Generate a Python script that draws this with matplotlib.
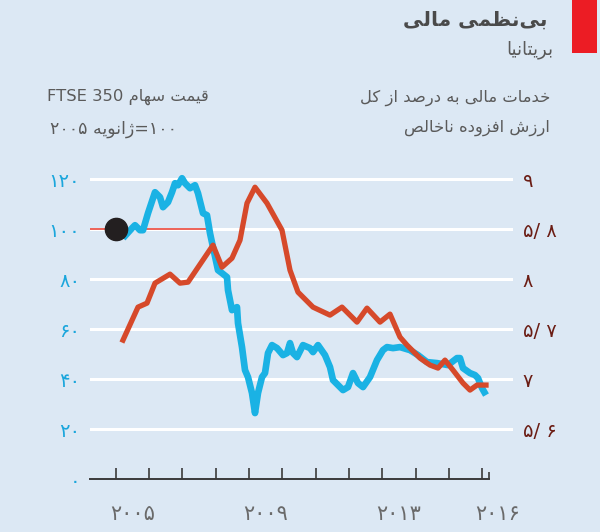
import matplotlib
matplotlib.use('Agg')
import matplotlib.pyplot as plt
from matplotlib.patches import Rectangle

# FTSE 350 share price, Jan 2005 = 100 (left axis)
ftse_years = [2005.22, 2005.49, 2005.58, 2005.73, 2005.82, 2005.97, 2006.18, 2006.33, 2006.42,
              2006.57, 2006.69, 2006.78, 2006.87, 2006.99, 2007.08, 2007.23, 2007.38, 2007.47,
              2007.62, 2007.74, 2007.83, 2007.92, 2008.07, 2008.19, 2008.34, 2008.37, 2008.49,
              2008.64, 2008.67, 2008.79, 2008.88, 2008.97, 2009.09, 2009.18, 2009.27, 2009.39,
              2009.48, 2009.57, 2009.69, 2009.84, 2010.02, 2010.14, 2010.23, 2010.32, 2010.44,
              2010.62, 2010.83, 2010.92, 2011.07, 2011.28, 2011.43, 2011.52, 2011.67, 2011.82,
              2011.97, 2012.12, 2012.27, 2012.42, 2012.63, 2012.84, 2013.02, 2013.14, 2013.32,
              2013.53, 2013.83, 2014.07, 2014.34, 2014.64, 2014.97, 2015.24, 2015.33, 2015.42,
              2015.63, 2015.78, 2015.87, 2015.99, 2016.11]
ftse_index = [96.4, 100.4, 101.6, 99.6, 99.6, 106.4, 114.8, 112.8, 108.8,
              110.8, 114.8, 118.4, 117.6, 120.4, 118.4, 116.4, 117.6, 114.4,
              106.4, 105.6, 98.4, 92.8, 83.6, 82.4, 80.8, 75.6, 67.6,
              68.8, 62.4, 52.8, 43.6, 40.8, 34.4, 26.4, 34.4, 40.8,
              42.4, 50.4, 53.6, 52.4, 49.6, 50.4, 54.4, 50.4, 48.8,
              53.6, 52.4, 50.8, 53.6, 49.6, 44.8, 39.6, 37.6, 35.6,
              36.8, 42.4, 38.4, 36.8, 40.8, 47.6, 51.6, 52.8, 52.4,
              52.8, 51.6, 49.6, 46.8, 46.4, 45.6, 48.4, 48.4, 44.4,
              42.4, 41.6, 40.4, 36.4, 33.6]

# financial services as % of gross value added (right axis)
gva_years = [2005.22, 2005.67, 2005.94, 2006.18, 2006.63, 2006.93, 2007.17, 2007.92, 2008.19,
             2008.49, 2008.73, 2008.94, 2009.18, 2009.54, 2009.99, 2010.23, 2010.47, 2010.92,
             2011.43, 2011.79, 2012.24, 2012.54, 2012.93, 2013.23, 2013.53, 2013.74, 2014.13,
             2014.43, 2014.67, 2014.88, 2015.12, 2015.42, 2015.63, 2015.84, 2016.11]
gva_share = [7.39, 7.72, 7.76, 7.96, 8.05, 7.96, 7.97, 8.34, 8.12,
             8.21, 8.39, 8.76, 8.92, 8.76, 8.49, 8.09, 7.87, 7.72,
             7.64, 7.72, 7.57, 7.71, 7.57, 7.65, 7.42, 7.34, 7.21,
             7.14, 7.11, 7.19, 7.09, 6.96, 6.89, 6.94, 6.94]

left_ticks = [0, 20, 40, 60, 80, 100, 120]
left_labels = ['۰', '۲۰', '۴۰', '۶۰', '۸۰', '۱۰۰', '۱۲۰']
right_ticks = [6.5, 7, 7.5, 8, 8.5, 9]
right_labels = ['۵/ ۶', '۷', '۵/ ۷', '۸', '۵/ ۸', '۹']
year_ticks = list(range(2005, 2017))
year_labels = {2005.5: '۲۰۰۵', 2009.5: '۲۰۰۹', 2013.5: '۲۰۱۳', 2016.47: '۲۰۱۶'}

title = 'بی‌نظمی مالی'
subtitle = 'بریتانیا'
left_head = ['قیمت سهام FTSE 350', '۱۰۰=ژانویه ۲۰۰۵']
right_head = ['خدمات مالی به درصد از کل', 'ارزش افزوده ناخالص']

# matplotlib has no Arabic shaping / bidi, so pick the joined glyph forms by hand
# (isolated, final, initial, medial); None = letter does not join to the next one
FORMS = {
    'ا': ('\uFE8D', '\uFE8E', None, None),
    'ب': ('\uFE8F', '\uFE90', '\uFE91', '\uFE92'),
    'ت': ('\uFE95', '\uFE96', '\uFE97', '\uFE98'),
    'خ': ('\uFEA5', '\uFEA6', '\uFEA7', '\uFEA8'),
    'د': ('\uFEA9', '\uFEAA', None, None),
    'ر': ('\uFEAD', '\uFEAE', None, None),
    'ز': ('\uFEAF', '\uFEB0', None, None),
    'ژ': ('\uFB8A', '\uFB8B', None, None),
    'س': ('\uFEB1', '\uFEB2', '\uFEB3', '\uFEB4'),
    'ش': ('\uFEB5', '\uFEB6', '\uFEB7', '\uFEB8'),
    'ص': ('\uFEB9', '\uFEBA', '\uFEBB', '\uFEBC'),
    'ظ': ('\uFEC5', '\uFEC6', '\uFEC7', '\uFEC8'),
    'ف': ('\uFED1', '\uFED2', '\uFED3', '\uFED4'),
    'ق': ('\uFED5', '\uFED6', '\uFED7', '\uFED8'),
    'ک': ('\uFB8E', '\uFB8F', '\uFB90', '\uFB91'),
    'ل': ('\uFEDD', '\uFEDE', '\uFEDF', '\uFEE0'),
    'م': ('\uFEE1', '\uFEE2', '\uFEE3', '\uFEE4'),
    'ن': ('\uFEE5', '\uFEE6', '\uFEE7', '\uFEE8'),
    'ه': ('\uFEE9', '\uFEEA', '\uFEEB', '\uFEEC'),
    'و': ('\uFEED', '\uFEEE', None, None),
    'ی': ('\uFBFC', '\uFBFD', '\uFBFE', '\uFBFF'),
}


def shape(s):
    out = []
    for i, c in enumerate(s):
        if c not in FORMS:
            out.append(c)
            continue
        prev = s[i - 1] if i > 0 else None
        nxt = s[i + 1] if i + 1 < len(s) else None
        iso, fin, ini, med = FORMS[c]
        jp = prev in FORMS and FORMS[prev][2] is not None
        jn = ini is not None and nxt in FORMS
        out.append(med if jp and jn else fin if jp else ini if jn else iso)
    return ''.join(out).replace('\u200c', '')


def fa(s):
    s = shape(s)

    def kind(c):
        if c.isascii() and c.isalnum() or '\u06f0' <= c <= '\u06f9':
            return 'L'
        if '\ufb50' <= c <= '\ufeff' or '\u0600' <= c <= '\u06ff':
            return 'R'
        return 'N'
    k = [kind(c) for c in s]
    for i, v in enumerate(k):
        if v == 'N':
            p = next((x for x in reversed(k[:i]) if x != 'N'), 'R')
            n = next((x for x in k[i + 1:] if x != 'N'), 'R')
            k[i] = 'L' if p == n == 'L' else 'R'
    runs = []
    for c, v in zip(s, k):
        if runs and runs[-1][0] == v:
            runs[-1][1].append(c)
        else:
            runs.append((v, [c]))
    return ''.join(''.join(r if v == 'L' else r[::-1]) for v, r in reversed(runs))


plt.rcParams['font.family'] = ['DejaVu Sans', 'Noto Sans']

bg = '#dce8f4'
blue = '#1ab2e4'
red = '#d6492a'
grey = '#5a5a5a'

fig = plt.figure(figsize=(6, 5.32), dpi=100, facecolor=bg)
ax = fig.add_axes([0.15, 0.0996, 0.705, 0.587])
ax.set_facecolor(bg)
ax.set_xlim(2004.23, 2016.92)
ax.set_ylim(0, 125)

for v in left_ticks[1:]:
    ax.axhline(v, color='white', lw=2.2, zorder=0.5)

# reference line at 100 and the starting dot
ax.hlines(100, 2004.23, 2007.7, color='#e8382a', lw=1.1, zorder=1)
ax.plot(ftse_years, ftse_index, color=blue, lw=4.8, solid_joinstyle='round',
        solid_capstyle='butt', zorder=2, clip_on=False)
ax.plot([2005.0], [100], 'o', color='#231f20', ms=16, zorder=4, clip_on=False)

for s in ['top', 'right', 'left']:
    ax.spines[s].set_visible(False)
ax.spines['bottom'].set_bounds(2004.23, 2016.2)
ax.spines['bottom'].set_color('#3a3a3a')
ax.spines['bottom'].set_linewidth(1.4)
ax.set_xticks(year_ticks)
ax.set_xticklabels([])
ax.set_xticks([2016.2], minor=True)
ax.tick_params(axis='x', which='major', direction='in', length=8, width=1.2, color='#3a3a3a')
ax.tick_params(axis='x', which='minor', direction='in', length=5, width=1.2, color='#3a3a3a')
for x, lab in year_labels.items():
    ax.annotate(lab, xy=(x, 0), xycoords=ax.get_xaxis_transform(), xytext=(0, -25),
                textcoords='offset points', ha='center', va='center', fontsize=15, color='#6a6a6a')

ax.set_yticks(left_ticks)
ax.set_yticklabels(left_labels)
ax.tick_params(axis='y', length=0, pad=7, labelsize=14, labelcolor='#1ba6dc')

ax2 = ax.twinx()
ax2.set_ylim(6, 6 + 125 / 40)
ax2.plot(gva_years, gva_share, color=red, lw=3.8, solid_joinstyle='round', zorder=3)
for s in ['top', 'right', 'left', 'bottom']:
    ax2.spines[s].set_visible(False)
ax2.set_yticks(right_ticks)
ax2.set_yticklabels(right_labels)
ax2.tick_params(axis='y', length=0, pad=7, labelsize=14, labelcolor='#6b1d14')

# headers
fig.add_artist(Rectangle((572 / 600, 1 - 53 / 532), 25 / 600, 53 / 532,
                         transform=fig.transFigure, color='#ec1c24', lw=0))
fig.text(0.913, 0.962, fa(title), ha='right', va='center', fontsize=14.5,
         fontweight='bold', color='#4a4a4a')
fig.text(0.922, 0.906, fa(subtitle), ha='right', va='center', fontsize=13, color=grey)
fig.text(0.917, 0.816, fa(right_head[0]), ha='right', va='center', fontsize=11.8, color=grey)
fig.text(0.917, 0.759, fa(right_head[1]), ha='right', va='center', fontsize=11.8, color=grey)
fig.text(0.078, 0.818, fa(left_head[0]), ha='left', va='center', fontsize=11.8, color=grey)
fig.text(0.083, 0.757, fa(left_head[1]), ha='left', va='center', fontsize=12.5, color=grey)

fig.savefig('out.png', dpi=100, facecolor=bg)
